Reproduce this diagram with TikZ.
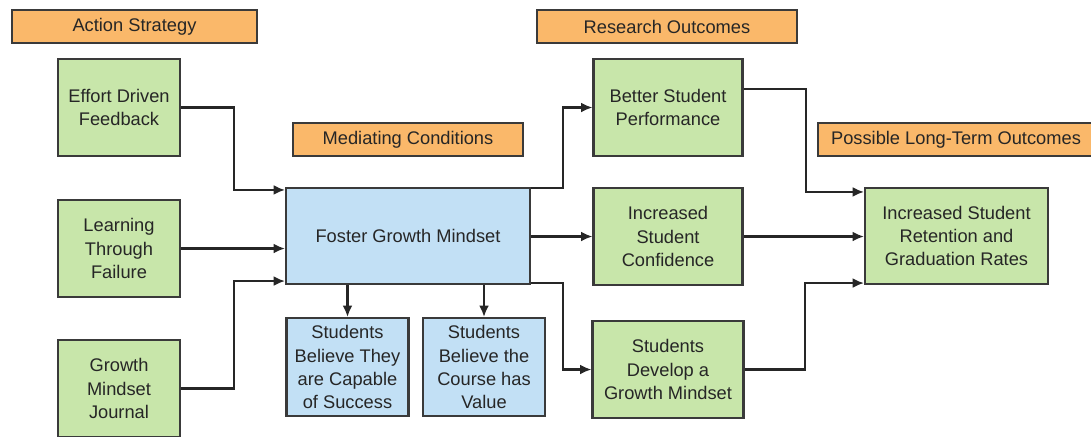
\documentclass[tikz,border=0pt]{standalone}
\usepackage{fontspec}
\setmainfont{Liberation Sans}
\usetikzlibrary{arrows.meta, positioning, calc}
\definecolor{headorange}{RGB}{250,184,106}
\definecolor{actgreen}{RGB}{200,230,170}
\definecolor{condblue}{RGB}{194,224,245}
\definecolor{edgegray}{RGB}{58,58,58}

\tikzset{
  box/.style={draw=edgegray, line width=1.5pt, align=center, inner sep=2pt,
    text=black!85, font=\fontsize{13}{16.4}\selectfont},
  header/.style={box, fill=headorange, minimum height=0.825cm},
  greenbox/.style={box, fill=actgreen, minimum width=3.05cm, minimum height=2.425cm},
  bluebox/.style={box, fill=condblue, minimum width=3.05cm, minimum height=2.45cm},
  arr/.style={draw=black!85, line width=1.5pt, -{Latex[length=8pt,width=7pt]}}
}

\begin{document}
\begin{tikzpicture}
  \useasboundingbox (0,0) rectangle (27.275,-10.9);

  % Column headers
  \node[header, minimum width=6.125cm] (hstrategy) at (3.3625,-0.6625) {Action Strategy};
  \node[header, minimum width=6.5cm] (houtcomes) at (16.675,-0.6625) {Research Outcomes};
  \node[header, minimum width=5.75cm] (hmediate) at (10.2,-3.4875) {Mediating Conditions};
  \node[header, minimum width=6.9cm] (hlongterm) at (23.9,-3.4875) {Possible Long-Term Outcomes};

  % Action strategies
  \node[greenbox] (effort) at (2.975,-2.6875) {Effort Driven\\Feedback};
  \node[greenbox] (failure) at (2.975,-6.2125) {Learning\\Through\\Failure};
  \node[greenbox] (journal) at (2.975,-9.7125) {Growth\\Mindset\\Journal};

  % Mediating conditions
  \node[bluebox, minimum width=6.1cm, minimum height=2.4cm] (foster) at (10.2,-5.9) {Foster Growth Mindset};
  \node[bluebox] (capable) at (8.6875,-9.175) {Students\\Believe They\\are Capable\\of Success};
  \node[bluebox] (value) at (12.1,-9.175) {Students\\Believe the\\Course has\\Value};

  % Research outcomes
  \node[greenbox, minimum width=3.725cm] (perform) at (16.7,-2.6875) {Better Student\\Performance};
  \node[greenbox, minimum width=3.725cm] (confid) at (16.7,-5.9125) {Increased\\Student\\Confidence};
  \node[greenbox, minimum width=3.775cm] (develop) at (16.7,-9.2375) {Students\\Develop a\\Growth Mindset};

  % Long-term outcome
  \node[greenbox, minimum width=4.575cm, minimum height=2.4cm] (retain) at (23.9125,-5.9) {Increased Student\\Retention and\\Graduation Rates};

  % Strategies into the mindset box
  \draw[arr] (effort.east) -- ++(1.325,0) |- ([yshift=-0.075cm]foster.north west);
  \draw[arr] (failure.east) -- (failure.east -| foster.west);
  \draw[arr] (journal.east) -- ++(1.325,0) |- ([yshift=0.1cm]foster.south west);

  % Mindset down to the beliefs
  \draw[arr] (capable.north |- foster.south) -- (capable.north);
  \draw[arr] (value.north |- foster.south) -- (value.north);

  % Mindset out to the research outcomes
  \draw[arr] ([yshift=-0.03cm]foster.north east) -- ++(0.8,0) |- (perform.west);
  \draw[arr] (foster.east |- confid.west) -- (confid.west);
  \draw[arr] ([yshift=0.05cm]foster.south east) -- ++(0.8,0) |- (develop.west);

  % Research outcomes into retention
  \draw[arr] ([yshift=0.46cm]perform.east) -- ++(1.55,0) |- ([yshift=-0.125cm]retain.north west);
  \draw[arr] (confid.east) -- (confid.east -| retain.west);
  \draw[arr] (develop.east) -- ++(1.5,0) |- ([yshift=0.05cm]retain.south west);
\end{tikzpicture}
\end{document}
